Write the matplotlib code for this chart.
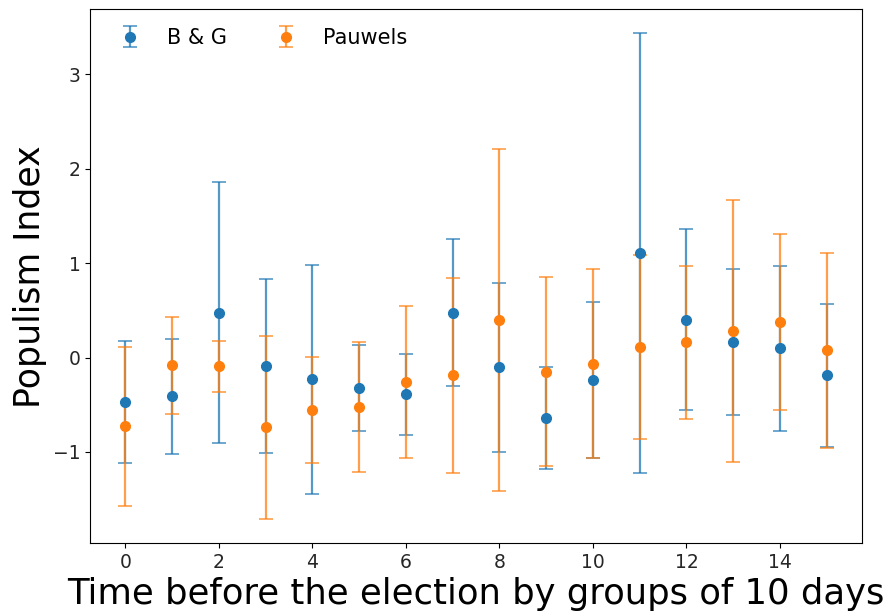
import matplotlib
matplotlib.use("Agg")
from matplotlib import pyplot as plt
import numpy as np

groups = list(range(16))

bg_mean = [-0.47, -0.41, 0.475, -0.09, -0.23, -0.32, -0.39, 0.475, -0.105, -0.64,
           -0.24, 1.105, 0.40, 0.165, 0.10, -0.19]
bg_err = [0.65, 0.61, 1.385, 0.925, 1.215, 0.455, 0.43, 0.78, 0.90, 0.545,
          0.825, 2.33, 0.96, 0.77, 0.875, 0.76]

pw_mean = [-0.73, -0.08, -0.09, -0.74, -0.555, -0.52, -0.255, -0.19, 0.40, -0.15,
           -0.065, 0.11, 0.16, 0.285, 0.375, 0.075]
pw_err = [0.845, 0.515, 0.27, 0.97, 0.565, 0.69, 0.805, 1.035, 1.81, 1.0,
          1.0, 0.975, 0.81, 1.39, 0.93, 1.035]

fig, ax = plt.subplots(figsize=(8.93, 6.11), dpi=100)
fig.subplots_adjust(left=0.101, right=0.965, top=0.985, bottom=0.111)

for mean, err, lab, col in [(bg_mean, bg_err, "B & G", "C0"), (pw_mean, pw_err, "Pauwels", "C1")]:
    cont = ax.errorbar(groups, mean, yerr=err, fmt="o", color=col, capsize=5,
                       markersize=7, elinewidth=1.6, capthick=1.2, label=lab)
    for c in cont[1]:
        c.set_alpha(0.75)
    for c in cont[2]:
        c.set_alpha(0.75)

ax.set_xticks(np.arange(0, 16, 2))
ax.tick_params(labelsize=13.5, labelcolor="#262626")
ax.set_xlabel("Time before the election by groups of 10 days", fontsize=25.5)
ax.set_ylabel("Populism Index", fontsize=25)
ax.legend(loc="upper left", ncol=2, frameon=False, fontsize=15, columnspacing=1.8)

plt.savefig("out.png")
